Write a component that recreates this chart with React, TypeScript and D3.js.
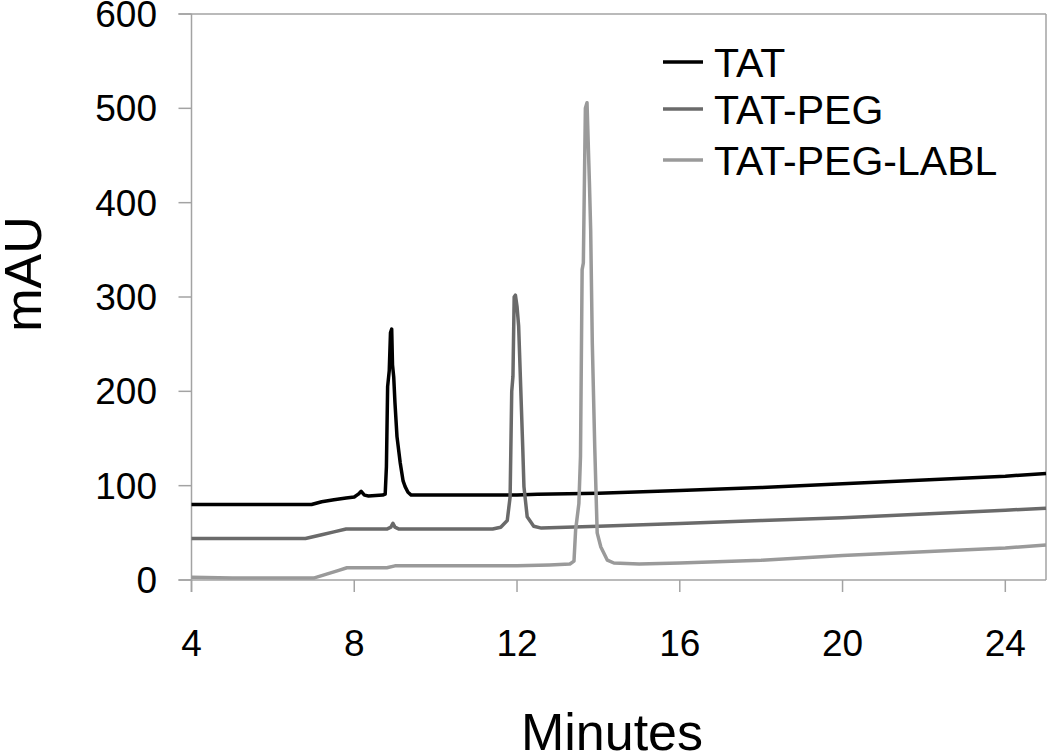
import React from "react";
import * as d3 from "d3";

const seriesNames = ["TAT", "TAT-PEG", "TAT-PEG-LABL"];
const seriesColors = ["#000000", "#6a6a6a", "#9a9a9a"];

const tatTime = [4, 6.95, 7.2, 7.5, 7.8, 8.0, 8.1, 8.17, 8.25, 8.35, 8.7, 8.76, 8.79, 8.82, 8.86, 8.89, 8.92, 8.94, 8.97, 9.0, 9.05, 9.13, 9.2, 9.25, 9.32, 9.4, 10, 12, 12.5, 14, 16, 18, 20, 22, 24, 25];
const tatValue = [80, 80, 83, 85, 87, 88, 91, 94, 90, 89, 90, 91, 120, 205, 222, 262, 266, 228, 215, 188, 152, 124, 105, 99, 93, 90, 90, 90, 91, 92, 95, 98, 102, 106, 110, 113];

const pegTime = [4, 6.8, 7.2, 7.5, 7.8, 8.8, 8.9, 8.95, 9.0, 9.1, 11.4, 11.6, 11.76, 11.83, 11.87, 11.9, 11.93, 11.96, 12.0, 12.04, 12.09, 12.14, 12.17, 12.25, 12.41, 12.6, 14, 16, 18, 20, 22, 24, 25];
const pegValue = [44, 44, 48, 51, 54, 54, 56, 60, 56, 54, 54, 56, 63, 88, 200, 216, 300, 302, 290, 269, 205, 141, 99, 67, 57, 55, 57, 60, 63, 66, 70, 74, 76];

const lablTime = [4, 5, 6, 7.0, 7.3, 7.6, 7.82, 8.8, 9.0, 12, 12.8, 13.3, 13.4, 13.44, 13.52, 13.56, 13.6, 13.63, 13.68, 13.72, 13.78, 13.81, 13.85, 13.91, 13.97, 14.06, 14.22, 14.38, 15, 16, 18, 20, 22, 24, 25];
const lablValue = [3, 2, 2, 2, 6, 10, 13, 13, 15, 15, 16, 17, 20, 53, 81, 131, 329, 336, 500, 506, 420, 371, 251, 141, 50, 35, 21, 18, 17, 18, 21, 26, 30, 34, 37];

const xTicks = [4, 8, 12, 16, 20, 24];
const yTicks = [0, 100, 200, 300, 400, 500, 600];

const seriesTimes = [tatTime, pegTime, lablTime];
const seriesValues = [tatValue, pegValue, lablValue];

const FONT = "'Liberation Sans', Arial, sans-serif";

export default function App() {
  const W = 1050, H = 754;
  const left = 191.5, right = 1046, top = 14, bottom = 580;
  const x = d3.scaleLinear().domain([4, 25]).range([left, right]);
  const y = d3.scaleLinear().domain([0, 600]).range([bottom, top]);
  const axisColor = "#a3a3a3";

  const line = d3
    .line<[number, number]>()
    .x((d) => x(d[0]))
    .y((d) => y(d[1]));

  const paths = seriesNames.map((name, i) => {
    const pts: [number, number][] = seriesTimes[i].map((t, j) => [t, seriesValues[i][j]]);
    return line(pts) || "";
  });

  const legendY = [62, 109, 160];

  return (
    <svg width={W} height={H} style={{ position: "absolute", left: 0, top: 0, background: "#fff" }}>
      <rect x={0} y={0} width={W} height={H} fill="#fff" />
      <line x1={left - 13} x2={right} y1={top} y2={top} stroke={axisColor} strokeWidth={1.5} />
      <line x1={right} x2={right} y1={top} y2={bottom} stroke={axisColor} strokeWidth={1.5} />
      <line x1={left} x2={left} y1={top} y2={bottom + 12} stroke={axisColor} strokeWidth={1.5} />
      <line x1={left - 13} x2={right} y1={bottom} y2={bottom} stroke={axisColor} strokeWidth={1.5} />
      {yTicks.map((v) => (
        <g key={"y" + v}>
          <line x1={left - 13} x2={left} y1={y(v)} y2={y(v)} stroke={axisColor} strokeWidth={1.5} />
          <text x={157} y={y(v) + 13} textAnchor="end" fontFamily={FONT} fontSize={37} fill="#000">
            {v}
          </text>
        </g>
      ))}
      {xTicks.map((t) => (
        <g key={"x" + t}>
          <line x1={x(t)} x2={x(t)} y1={bottom} y2={bottom + 12} stroke={axisColor} strokeWidth={1.5} />
          <text x={x(t)} y={656} textAnchor="middle" fontFamily={FONT} fontSize={37} fill="#000">
            {t}
          </text>
        </g>
      ))}
      {paths.map((d, i) => (
        <path key={i} d={d} fill="none" stroke={seriesColors[i]} strokeWidth={3.5} strokeLinejoin="round" />
      ))}
      {seriesNames.map((name, i) => (
        <g key={"l" + i}>
          <line x1={663} x2={703} y1={legendY[i]} y2={legendY[i]} stroke={seriesColors[i]} strokeWidth={3.5} />
          <text x={714} y={legendY[i] + 15} fontFamily={FONT} fontSize={41} fill="#000">
            {name}
          </text>
        </g>
      ))}
      <text
        transform={`translate(41,274) rotate(-90)`}
        textAnchor="middle"
        fontFamily={FONT}
        fontSize={52}
        fill="#000"
      >
        mAU
      </text>
      <text x={612} y={750} textAnchor="middle" fontFamily={FONT} fontSize={52} fill="#000">
        Minutes
      </text>
    </svg>
  );
}
